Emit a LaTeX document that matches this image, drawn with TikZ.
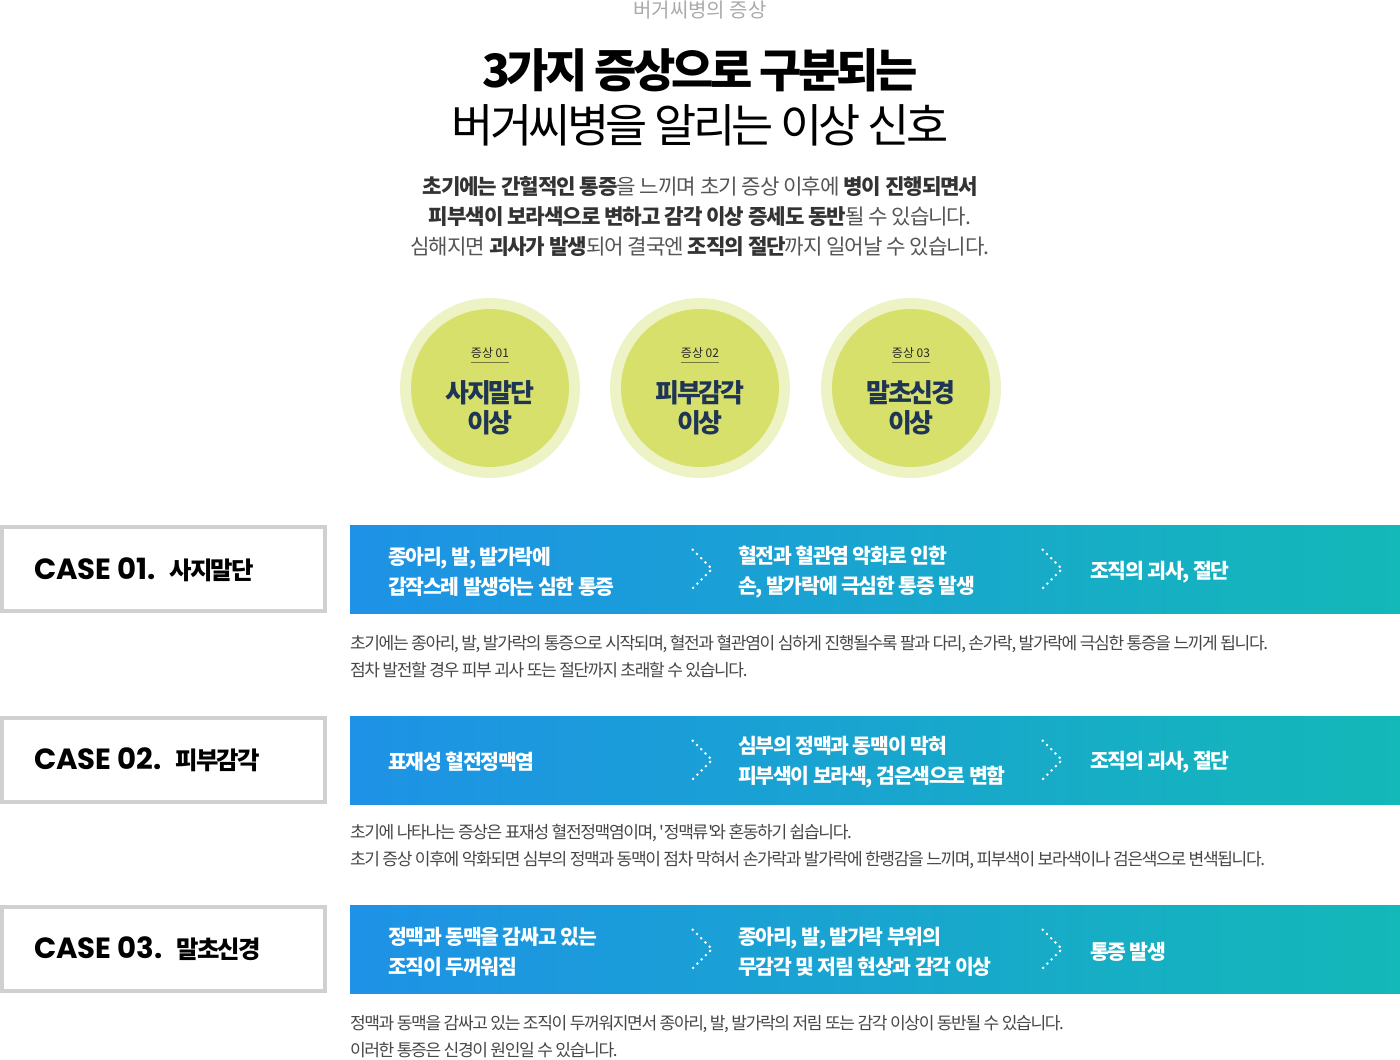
\documentclass[tikz,border=0pt]{standalone}
\usepackage{fontspec}
\setmainfont{Noto Sans CJK KR}
\newfontfamily\casefont{Poppins}
\usetikzlibrary{positioning, calc}
\definecolor{ttlgrey}{RGB}{170,170,170}
\definecolor{txtgrey}{RGB}{70,70,70}
\definecolor{pargrey}{RGB}{85,85,85}
\definecolor{boxgrey}{RGB}{208,208,208}
\definecolor{ringout}{RGB}{238,243,198}
\definecolor{ringin}{RGB}{216,224,108}
\definecolor{navy}{RGB}{31,53,86}
\definecolor{olive}{RGB}{120,120,60}
\definecolor{bandl}{RGB}{30,146,230}
\definecolor{bandr}{RGB}{19,184,184}

\tikzset{
  casebox/.style={draw=boxgrey, line width=3pt, fill=white, minimum width=242.25pt, minimum height=63pt},
  band/.style={left color=bandl, right color=bandr, minimum width=787.5pt, minimum height=66pt},
  casetitle/.style={anchor=west, font=\casefont\bfseries\fontsize{21.9}{24}\selectfont},
  bandtext/.style={anchor=west, align=left, text=white, font=\bfseries\fontsize{15.35}{22.5}\selectfont\addfontfeature{LetterSpace=-6}},
  desctext/.style={anchor=west, align=left, text=txtgrey, font=\fontsize{12.8}{20.25}\selectfont\addfontfeature{LetterSpace=-8}},
  chev/.style={white, line width=1.5pt, dash pattern=on 1.5pt off 3pt},
  symlabel/.style={font=\fontsize{9}{10}\selectfont, text=black!85},
  symname/.style={align=center, text=navy, font=\bfseries\fontsize{19.5}{22.5}\selectfont\addfontfeature{LetterSpace=-8}}
}

\newcommand{\casekr}{\normalfont\bfseries\fontsize{18.3}{20}\selectfont\addfontfeature{LetterSpace=-8}}

\begin{document}
\begin{tikzpicture}[x=0.75pt, y=-0.75pt, inner sep=0pt, outer sep=0pt]
        \useasboundingbox (0,0) rectangle (1400,1060);

        %heading
        \node[text=ttlgrey, font=\fontsize{15}{18}\selectfont] (head) at (700,10) {버거씨병의 증상};
        \node[font=\bfseries\fontsize{34.5}{36}\selectfont\addfontfeature{LetterSpace=-8}] (title1) at (700,70) {3가지 증상으로 구분되는};
        \node[font=\fontsize{34.4}{36}\selectfont\addfontfeature{LetterSpace=-8}] (title2) at (700,125) {버거씨병을 알리는 이상 신호};
        \node[align=center, text=pargrey, font=\fontsize{15.9}{22.5}\selectfont\addfontfeature{LetterSpace=-5}] (intro) at (700,217)
          {\textcolor{black!80}{\textbf{초기에는 간헐적인 통증}}을 느끼며 초기 증상 이후에 \textcolor{black!80}{\textbf{병이 진행되면서}}\\
           \textcolor{black!80}{\textbf{피부색이 보라색으로 변하고 감각 이상 증세도 동반}}될 수 있습니다.\\
           심해지면 \textcolor{black!80}{\textbf{괴사가 발생}}되어 결국엔 \textcolor{black!80}{\textbf{조직의 절단}}까지 일어날 수 있습니다.};

        %symptom circles
        \coordinate (s1) at (490,388);
        \coordinate (s2) at (700,388);
        \coordinate (s3) at (911,388);
        \fill[ringout] (s1) circle (90);
        \fill[ringout] (s2) circle (90);
        \fill[ringout] (s3) circle (90);
        \fill[ringin] (s1) circle (79);
        \fill[ringin] (s2) circle (79);
        \fill[ringin] (s3) circle (79);

        \node[symlabel] (l1) at ($(s1)+(0,-35)$) {증상 01};
        \node[symlabel] (l2) at ($(s2)+(0,-35)$) {증상 02};
        \node[symlabel] (l3) at ($(s3)+(0,-35)$) {증상 03};
        \draw[olive, line width=0.75pt] ($(l1.south west)+(0,4)$) -- ($(l1.south east)+(0,4)$);
        \draw[olive, line width=0.75pt] ($(l2.south west)+(0,4)$) -- ($(l2.south east)+(0,4)$);
        \draw[olive, line width=0.75pt] ($(l3.south west)+(0,4)$) -- ($(l3.south east)+(0,4)$);

        \node[symname] (n1) at ($(s1)+(0,20)$) {사지말단\\이상};
        \node[symname] (n2) at ($(s2)+(0,20)$) {피부감각\\이상};
        \node[symname] (n3) at ($(s3)+(0,20)$) {말초신경\\이상};

        %case boxes
        \node[casebox] (case1) at (163.5,569) {};
        \node[casebox] (case2) at (163.5,760) {};
        \node[casebox] (case3) at (163.5,949) {};
        \node[casetitle] (ct1) at (34,570) {CASE 01.\hspace{10.5pt}\casekr 사지말단};
        \node[casetitle] (ct2) at (34,760) {CASE 02.\hspace{10.5pt}\casekr 피부감각};
        \node[casetitle] (ct3) at (34,949) {CASE 03.\hspace{10.5pt}\casekr 말초신경};

        %gradient bands
        \node[band] (band1) at (875,569) {};
        \node[band] (band2) at (875,760) {};
        \node[band] (band3) at (875,949) {};

        \node[bandtext] (a1) at (388,572) {종아리, 발, 발가락에\\갑작스레 발생하는 심한 통증};
        \node[bandtext] (b1) at (738,572) {혈전과 혈관염 악화로 인한\\손, 발가락에 극심한 통증 발생};
        \node[bandtext] (c1) at (1090,572) {조직의 괴사, 절단};

        \node[bandtext] (a2) at (388,762) {표재성 혈전정맥염};
        \node[bandtext] (b2) at (738,762) {심부의 정맥과 동맥이 막혀\\피부색이 보라색, 검은색으로 변함};
        \node[bandtext] (c2) at (1090,762) {조직의 괴사, 절단};

        \node[bandtext] (a3) at (388,952) {정맥과 동맥을 감싸고 있는\\조직이 두꺼워짐};
        \node[bandtext] (b3) at (738,952) {종아리, 발, 발가락 부위의\\무감각 및 저림 현상과 감각 이상};
        \node[bandtext] (c3) at (1090,952) {통증 발생};

        % Draw chevrons
        \draw[chev] ($(band1.center)+(-183,-20)$) -- ++(20,20) -- ++(-20,20);
        \draw[chev] ($(band1.center)+(167,-20)$) -- ++(20,20) -- ++(-20,20);
        \draw[chev] ($(band2.center)+(-183,-20)$) -- ++(20,20) -- ++(-20,20);
        \draw[chev] ($(band2.center)+(167,-20)$) -- ++(20,20) -- ++(-20,20);
        \draw[chev] ($(band3.center)+(-183,-20)$) -- ++(20,20) -- ++(-20,20);
        \draw[chev] ($(band3.center)+(167,-20)$) -- ++(20,20) -- ++(-20,20);

        %descriptions
        \node[desctext] (d1) at (350,657) {초기에는 종아리, 발, 발가락의 통증으로 시작되며, 혈전과 혈관염이 심하게 진행될수록 팔과 다리, 손가락, 발가락에 극심한 통증을 느끼게 됩니다.\\점차 발전할 경우 피부 괴사 또는 절단까지 초래할 수 있습니다.};
        \node[desctext] (d2) at (350,846) {초기에 나타나는 증상은 표재성 혈전정맥염이며, \textquotesingle 정맥류\textquotesingle\kern-2pt 와 혼동하기 쉽습니다.\\초기 증상 이후에 악화되면 심부의 정맥과 동맥이 점차 막혀서 손가락과 발가락에 한랭감을 느끼며, 피부색이 보라색이나 검은색으로 변색됩니다.};
        \node[desctext] (d3) at (350,1037) {정맥과 동맥을 감싸고 있는 조직이 두꺼워지면서 종아리, 발, 발가락의 저림 또는 감각 이상이 동반될 수 있습니다.\\이러한 통증은 신경이 원인일 수 있습니다.};

    \end{tikzpicture}
\end{document}
